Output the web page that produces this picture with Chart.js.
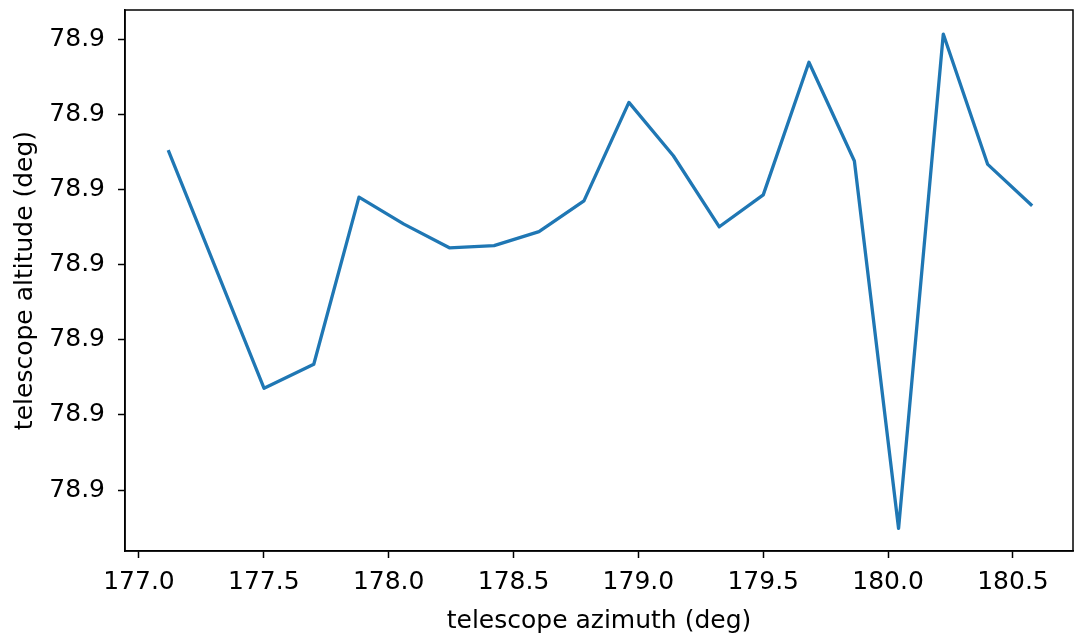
<!DOCTYPE html>
<html>
<head>
<meta charset="utf-8">
<script src="https://cdn.jsdelivr.net/npm/chart.js@4"></script>
<style>
  html, body { margin: 0; padding: 0; background: #fff; }
  #wrap { width: 1078px; height: 636px; }
</style>
</head>
<body>
<div id="wrap"><canvas id="altChart" width="1078" height="636"></canvas></div>
<script>
// telescope azimuth (deg)
const azimuth = [177.117, 177.501, 177.700, 177.881, 178.061, 178.243, 178.422, 178.602, 178.782,
  178.962, 179.140, 179.324, 179.500, 179.683, 179.865, 180.042, 180.221, 180.399, 180.577];
// telescope altitude (deg)
const altitude = [78.89705, 78.89071, 78.89135, 78.89580, 78.89508, 78.89445, 78.89451, 78.89488, 78.89570,
  78.89832, 78.89690, 78.89501, 78.89586, 78.89939, 78.89676, 78.88698, 78.90014, 78.89667, 78.89557];

const xTicks = [177.0, 177.5, 178.0, 178.5, 179.0, 179.5, 180.0, 180.5];
const yTicks = [78.888, 78.890, 78.892, 78.894, 78.896, 78.898, 78.900];

const points = azimuth.map((a, i) => ({ x: a, y: altitude[i] }));

const fontFamily = "'DejaVu Sans', sans-serif";

// box around the plot area, like matplotlib spines
const frame = {
  id: 'frame',
  afterDraw(chart) {
    const a = chart.chartArea;
    const c = chart.ctx;
    c.save();
    c.strokeStyle = '#000';
    c.lineWidth = 1.5;
    c.strokeRect(a.left, a.top, a.right - a.left, a.bottom - a.top);
    c.restore();
  }
};

const ctx = document.getElementById('altChart');
const chart = new Chart(ctx, {
  type: 'line',
  data: {
    datasets: [{
      data: points,
      borderColor: '#1f77b4',
      borderWidth: 3.3,
      borderJoinStyle: 'round',
      borderCapStyle: 'butt',
      pointRadius: 0,
      tension: 0,
      fill: false
    }]
  },
  options: {
    responsive: false,
    animation: false,
    layout: { padding: { top: 10, right: 5, left: 0, bottom: 0 } },
    plugins: { legend: { display: false }, tooltip: { enabled: false } },
    scales: {
      x: {
        type: 'linear',
        min: 176.944,
        max: 180.7405,
        afterBuildTicks: (s) => { s.ticks = xTicks.map(v => ({ value: v })); },
        afterFit: (s) => { s.height = 85; s.paddingLeft = 0; s.paddingRight = 0; },
        ticks: {
          color: '#000',
          font: { family: fontFamily, size: 25 },
          padding: 9,
          maxRotation: 0,
          callback: (v) => v.toFixed(1)
        },
        grid: { drawOnChartArea: false, drawTicks: true, tickLength: 7, color: '#000', tickWidth: 1.5 },
        border: { display: true, color: '#000', width: 1.5 },
        title: {
          display: true,
          text: 'telescope azimuth (deg)',
          color: '#000',
          font: { family: fontFamily, size: 25 },
          padding: { top: 0, bottom: 0 }
        }
      },
      y: {
        type: 'linear',
        min: 78.88638,
        max: 78.90078,
        afterBuildTicks: (s) => { s.ticks = yTicks.map(v => ({ value: v })); },
        afterFit: (s) => { s.width = 125; s.paddingTop = 0; s.paddingBottom = 0; },
        ticks: {
          color: '#000',
          font: { family: fontFamily, size: 25 },
          padding: 13,
          callback: (v) => v.toFixed(1)
        },
        grid: { drawOnChartArea: false, drawTicks: true, tickLength: 7, color: '#000', tickWidth: 1.5 },
        border: { display: true, color: '#000', width: 1.5 },
        title: {
          display: true,
          text: 'telescope altitude (deg)',
          color: '#000',
          font: { family: fontFamily, size: 25 },
          padding: { top: 10, bottom: 0 }
        }
      }
    }
  },
  plugins: [frame]
});
</script>
</body>
</html>
